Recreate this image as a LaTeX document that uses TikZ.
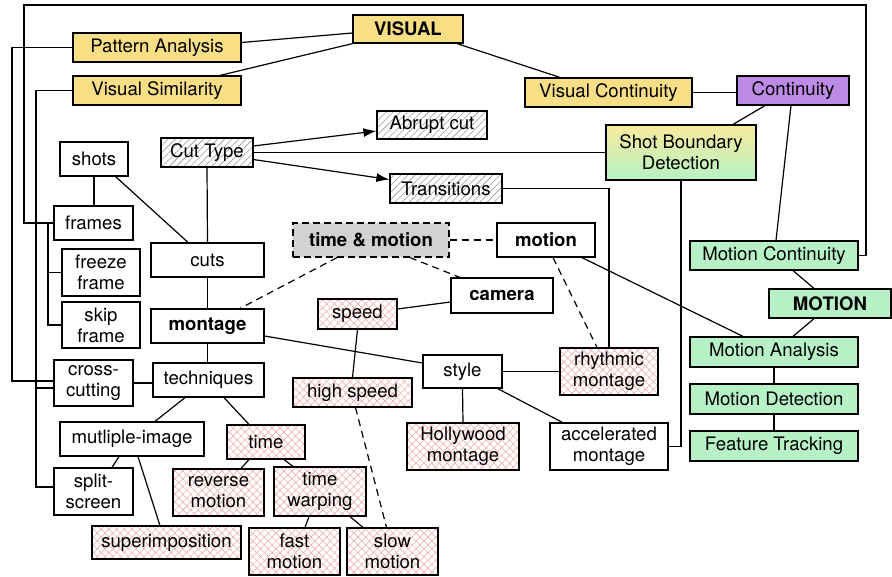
\documentclass[tikz,border=0pt]{standalone}
\usepackage{fontspec}
\setmainfont{TeX Gyre Heros}
\usetikzlibrary{calc,patterns.meta,arrows.meta}

\definecolor{visyellow}{HTML}{F8DF86}
\definecolor{sbdyellow}{HTML}{F8EA9C}
\definecolor{motgreen}{HTML}{B6F2C6}
\definecolor{contpurple}{HTML}{BD8AE6}
\definecolor{tmgray}{HTML}{D2D2D2}
\definecolor{hatchgray}{HTML}{9A9A9A}
\definecolor{hatchpink}{HTML}{EFA3A8}

\begin{document}
\begin{tikzpicture}[x=1pt,y=-1pt,
  box/.style={draw=black, line width=1.2pt, inner sep=0pt, align=center,
    font=\fontsize{18.6}{21}\selectfont},
  plainbox/.style={box, fill=white},
  yellowbox/.style={box, fill=visyellow},
  greenbox/.style={box, fill=motgreen},
  hatchbox/.style={box, preaction={fill=white},
    pattern={Lines[angle=45,distance=5pt,line width=0.6pt]}, pattern color=hatchgray},
  pinkbox/.style={box, preaction={fill=white},
    preaction={pattern={Lines[angle=45,distance=5.5pt,line width=0.5pt]}, pattern color=hatchpink},
    pattern={Lines[angle=-45,distance=5.5pt,line width=0.5pt]}, pattern color=hatchpink},
  link/.style={draw=black, line width=1.2pt},
  dashlink/.style={link, dash pattern=on 7pt off 5pt},
  arrowlink/.style={link, -{Latex[length=13pt,width=9pt]}},
  sz/.style 2 args={minimum width=#1pt, minimum height=#2pt}
]
\useasboundingbox (0,0) rectangle (892,576);

% visual branch
\node[yellowbox, sz={168}{29}] (PA) at (157,47.5) {Pattern Analysis};
\node[yellowbox, sz={110}{28}] (VIS) at (408,29) {\bfseries VISUAL};
\node[yellowbox, sz={168}{29}] (VS) at (157,90.5) {Visual Similarity};
\node[yellowbox, sz={167}{29}] (VC) at (608.5,92.5) {Visual Continuity};
\node[box, fill=contpurple, sz={112}{29}] (CONT) at (793,90.5) {Continuity};
\node[box, top color=sbdyellow, bottom color=motgreen, middle color=sbdyellow!50!motgreen,
  sz={150}{55}] (SBD) at (681,152.5) {Shot Boundary\\Detection};

% cut types
\node[hatchbox, sz={92}{29}] (CT) at (207,152.5) {Cut Type};
\node[hatchbox, sz={110}{28}] (AC) at (432,125) {Abrupt cut};
\node[hatchbox, sz={112}{29}] (TR) at (446,188.5) {Transitions};

% left column
\node[plainbox, sz={68}{34}] (SHOTS) at (94,159) {shots};
\node[plainbox, sz={79}{34}] (FRAMES) at (93.5,223) {frames};
\node[plainbox, sz={78}{47}] (FREEZE) at (101,272.5) {freeze\\frame};
\node[plainbox, sz={78}{46}] (SKIP) at (101,325) {skip\\frame};
\node[plainbox, sz={79}{46}] (CC) at (93.5,383) {cross-\\cutting};
\node[plainbox, sz={144}{34}] (MULTI) at (132,439) {mutliple-image};
\node[plainbox, sz={79}{47}] (SPLIT) at (93.5,491.5) {split-\\screen};
\node[pinkbox, sz={149}{33}] (SUPER) at (166.5,542.5) {superimposition};

% montage column
\node[plainbox, sz={113}{34}] (CUTS) at (207.5,260) {cuts};
\node[plainbox, sz={113}{34}] (MONT) at (207.5,326) {\bfseries montage};
\node[plainbox, sz={111}{34}] (TECH) at (208.5,380) {techniques};
\node[pinkbox, sz={78}{34}] (TIME) at (266,442) {time};
\node[pinkbox, sz={91}{47}] (REV) at (218.5,492.5) {reverse\\motion};
\node[pinkbox, sz={92}{49}] (WARP) at (320,491.5) {time\\warping};
\node[pinkbox, sz={91}{47}] (FAST) at (294.5,551.5) {fast\\motion};
\node[pinkbox, sz={91}{47}] (SLOW) at (392.5,551.5) {slow\\motion};

% time and motion
\node[box, fill=tmgray, dash pattern=on 7pt off 4pt, sz={156}{34}] (TM) at (371,240) {\bfseries time \& motion};
\node[plainbox, sz={98}{34}] (MOT) at (546,240) {\bfseries motion};
\node[plainbox, sz={102}{35}] (CAM) at (502,295.5) {\bfseries camera};
\node[pinkbox, sz={79}{30}] (SPEED) at (357.5,314) {speed};
\node[pinkbox, sz={119}{29}] (HIGH) at (352.5,392.5) {high speed};
\node[plainbox, sz={79}{33}] (STYLE) at (462.5,371.5) {style};
\node[pinkbox, sz={98}{47}] (RM) at (609,371.5) {rhythmic\\montage};
\node[pinkbox, sz={112}{47}] (HM) at (463,446.5) {Hollywood\\montage};
\node[plainbox, sz={118}{47}] (AM) at (609,446.5) {accelerated\\montage};

% motion branch
\node[greenbox, sz={168}{29}] (MC) at (774,255.5) {Motion Continuity};
\node[greenbox, sz={122}{29}] (MOTION) at (830,303.5) {\bfseries MOTION};
\node[greenbox, sz={168}{30}] (MA) at (774,352) {Motion Analysis};
\node[greenbox, sz={168}{30}] (MD) at (774,399) {Motion Detection};
\node[greenbox, sz={168}{30}] (FT) at (774,446) {Feature Tracking};

% bus corners along the left and top edges
\coordinate (paBus) at (12,381);
\coordinate (frTL) at (24,5);
\coordinate (frTR) at (866,5);
\coordinate (vsBus) at (36,487);
\coordinate (vsCC) at (36,388);
\coordinate (frBus) at (48,223);

% connectors
\draw[link] ($(PA.east)+(0,-5)$) -- ($(VIS.west)+(0,4)$);
\draw[link] (VIS.south west) -- ($(VS.north)+(63,0)$);
\draw[link] ($(VIS.south)+(49,0)$) -- ($(VC.north)+(-48.5,0)$);
\draw[link] (VC.east) -- (VC.east -| CONT.west);
\draw[link] ($(CONT.south)+(-28,0)$) -- ($(SBD.north)+(52,0)$);
\draw[link] ($(CONT.south)+(-2,0)$) -- ($(MC.north)+(2,0)$);

\draw[arrowlink] ($(CT.east)+(0,-6.5)$) -- ($(AC.west)+(0,6)$);
\draw[link] (CT.east) -- (SBD.west);
\draw[arrowlink] ($(CT.east)+(0,7)$) -- ($(TR.west)+(0,-9)$);
\draw[link] (TR.east) -| (RM.north);
\draw[link] (SBD.south) |- (AM.east);

\draw[link] (CT.south) -- (CUTS.north);
\draw[link] (SHOTS.south) -- (SHOTS.south |- FRAMES.north);
\draw[link] ($(SHOTS.south east)+(-13,0)$) -- ($(CUTS.north)+(-19.5,0)$);
\draw[link] (CUTS.south) -- (MONT.north);
\draw[link] (MONT.south) -- (MONT.south |- TECH.north);

\draw[dashlink] ($(TM.south)+(-34,0)$) -- ($(MONT.north)+(32.5,0)$);
\draw[dashlink] (TM.east) -- (MOT.west);
\draw[dashlink] ($(TM.south)+(39,0)$) -- ($(CAM.north)+(-42,0)$);
\draw[dashlink] ($(MOT.south)+(7,0)$) -- ($(RM.north)+(-12,0)$);
\draw[link] ($(MOT.south)+(36,0)$) -- ($(MA.north)+(-31,0)$);

\draw[link] ($(SPEED.east)+(0,-5)$) -- ($(CAM.west)+(0,6.5)$);
\draw[link] (SPEED.south) -- (HIGH.north);
\draw[dashlink] ($(HIGH.south)+(3,0)$) -- ($(SLOW.north)+(-6,0)$);
\draw[link] ($(MONT.east)+(0,10)$) -- ($(STYLE.west)+(0,-8.5)$);
\draw[link] (STYLE.east) -- (RM.west);
\draw[link] (STYLE.south) -- (HM.north);
\draw[link] ($(STYLE.south east)+(-5,0)$) -- ($(AM.north west)+(13,0)$);

\draw[link] (CC.east) -- (CC.east -| TECH.west);
\draw[link] ($(TECH.south)+(-23.5,0)$) -- ($(MULTI.north)+(23,0)$);
\draw[link] ($(TECH.south)+(15.5,0)$) -- ($(TIME.north)+(-17,0)$);
\draw[link] ($(MULTI.south)+(-13,0)$) -- ($(SPLIT.north)+(18.5,0)$);
\draw[link] ($(MULTI.south)+(6,0)$) -- ($(SUPER.north)+(-6.5,0)$);
\draw[link] ($(TIME.south)+(-17,0)$) -- ($(REV.north)+(22.5,0)$);
\draw[link] ($(TIME.south)+(18,0)$) -- ($(WARP.north)+(-27,0)$);
\draw[link] ($(WARP.south)+(-11,0)$) -- ($(FAST.north)+(10.5,0)$);
\draw[link] ($(WARP.south)+(30,0)$) -- ($(SLOW.north)+(-29.5,0)$);

\draw[link] ($(MC.south)+(19,0)$) -- ($(MOTION.north)+(-16,0)$);
\draw[link] ($(MOTION.south)+(-16,0)$) -- ($(MA.north)+(19,0)$);
\draw[link] (MA.south) -- (MD.north);
\draw[link] (MD.south) -- (FT.north);

% long routed connectors
\draw[link] (PA.west) -| (paBus) -- (paBus -| CC.west);
\draw[link] (FRAMES.west) -| (frTL) -- (frTR) |- (MC.east);
\draw[link] (VS.west) -| (vsBus) -- (vsBus -| SPLIT.west);
\draw[link] (vsCC) -- (vsCC -| CC.west);
\draw[link] (frBus) |- (SKIP.west);
\draw[link] (frBus |- FREEZE.west) -- (FREEZE.west);
\end{tikzpicture}
\end{document}
